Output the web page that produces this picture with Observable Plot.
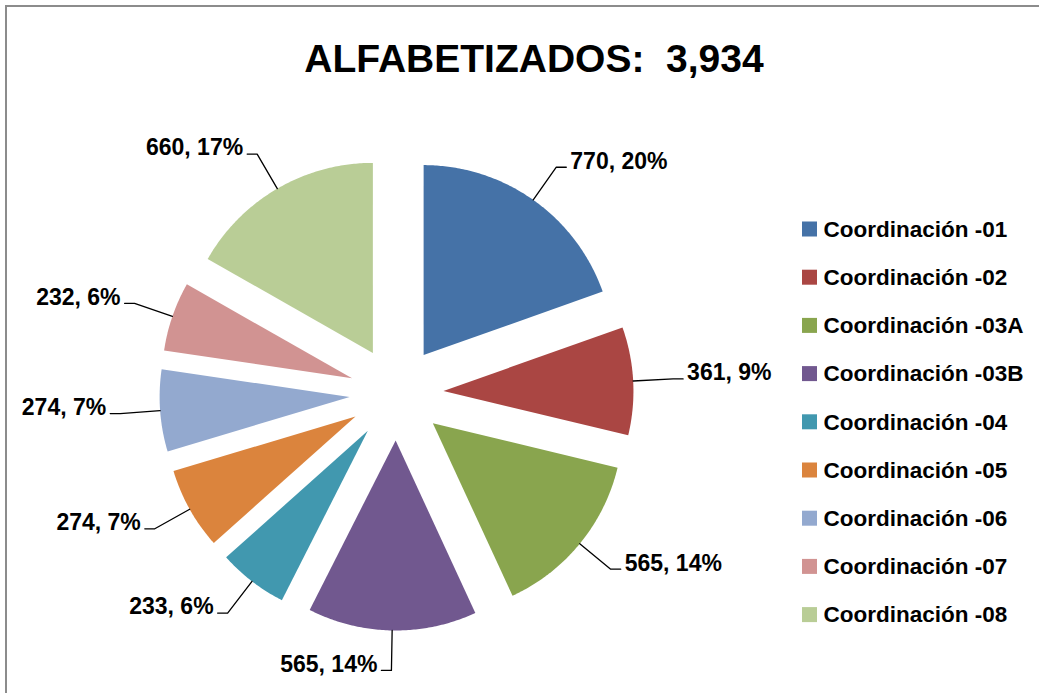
<!DOCTYPE html>
<html>
<head>
<meta charset="utf-8">
<script src="https://cdn.jsdelivr.net/npm/d3@7"></script>
<script src="https://cdn.jsdelivr.net/npm/@observablehq/plot@0.6"></script>
<style>
html, body { margin: 0; padding: 0; background: #fff; overflow: hidden; }
#frame { position: absolute; left: 5px; top: 5px; width: 1034px; height: 688px;
  border-left: 2px solid #8c8c8c; border-top: 2px solid #8c8c8c; box-sizing: border-box; }
#title { font-family: "Liberation Sans", Arial, sans-serif; font-weight: bold; font-size: 39px;
  line-height: 39px; height: 39px; padding: 32px 0 22px 22px; text-align: center;
  white-space: pre; color: #000; }
</style>
</head>
<body>
<div id="frame"><div id="title"></div><div id="chart"></div></div>
<script>
// ---- data ----
const titleText = "ALFABETIZADOS:  3,934";
const categories = [
  "Coordinación -01", "Coordinación -02", "Coordinación -03A", "Coordinación -03B",
  "Coordinación -04", "Coordinación -05", "Coordinación -06", "Coordinación -07",
  "Coordinación -08"
];
const values = [770, 361, 565, 565, 233, 274, 274, 232, 660];
const colors = ["#4572A7", "#AA4643", "#89A54E", "#71588F", "#4198AF", "#DB843D", "#93A9CF", "#D19392", "#B9CD96"];

document.getElementById("title").textContent = titleText;

// ---- layout (page pixel coordinates) ----
const svgLeft = 7, svgTop = 100, svgW = 1032, svgH = 593;
const cx = 396, cy = 393, radius = 190, explode = 47;
const leaderLen = 40, tickLen = 10;
const fontStack = '"Liberation Sans", Arial, sans-serif';

const total = d3.sum(values);
const arcs = d3.pie().sort(null).value(d => d)(values);

// slice polygons
const slicePts = [];
arcs.forEach((a, i) => {
  const m = (a.startAngle + a.endAngle) / 2;
  const ax = cx + explode * Math.sin(m), ay = cy - explode * Math.cos(m);
  slicePts.push({name: categories[i], x: ax, y: ay});
  const n = Math.max(4, Math.ceil((a.endAngle - a.startAngle) / 0.01));
  for (let j = 0; j <= n; j++) {
    const t = a.startAngle + (a.endAngle - a.startAngle) * j / n;
    slicePts.push({name: categories[i], x: ax + radius * Math.sin(t), y: ay - radius * Math.cos(t)});
  }
});

// labels + leaders
const labels = arcs.map((a, i) => {
  const m = (a.startAngle + a.endAngle) / 2;
  const ux = Math.sin(m), uy = -Math.cos(m);
  const px = cx + (explode + radius) * ux, py = cy + (explode + radius) * uy;
  const ex = px + leaderLen * ux, ey = py + leaderLen * uy;
  const s = ux >= 0 ? 1 : -1;
  const pct = Math.round(values[i] / total * 100);
  return {name: categories[i], px, py, ex, ey, tx: ex + s * tickLen, s,
          text: `${values[i]}, ${pct}%`};
});
const leaderPts = labels.flatMap(l => [
  {name: l.name, x: l.px, y: l.py},
  {name: l.name, x: l.ex, y: l.ey},
  {name: l.name, x: l.tx, y: l.ey}
]);

// legend
const legend = categories.map((c, i) => ({name: c, y: 229 + i * 48.2}));

const labelStyle = {fontFamily: fontStack, fontWeight: "bold", fontSize: 23, fill: "#000", dy: -6};

const chart = Plot.plot({
  width: svgW,
  height: svgH,
  margin: 0,
  x: {domain: [svgLeft, svgLeft + svgW], range: [0, svgW], axis: null},
  y: {domain: [svgTop, svgTop + svgH], range: [0, svgH], axis: null},
  color: {domain: categories, range: colors},
  style: {background: "#fff", overflow: "visible"},
  marks: [
    Plot.line(slicePts, {x: "x", y: "y", z: "name", fill: "name", stroke: "none", curve: "linear-closed"}),
    Plot.line(leaderPts, {x: "x", y: "y", z: "name", stroke: "#000", strokeWidth: 1.3}),
    Plot.text(labels.filter(l => l.s > 0), {x: l => l.tx + 4, y: "ey", text: "text", textAnchor: "start", ...labelStyle}),
    Plot.text(labels.filter(l => l.s < 0), {x: l => l.tx - 4, y: "ey", text: "text", textAnchor: "end", ...labelStyle}),
    Plot.rect(legend, {x1: () => 802, x2: () => 817, y1: d => d.y - 7.5, y2: d => d.y + 7.5, fill: "name"}),
    Plot.text(legend, {x: () => 823, y: "y", text: "name", textAnchor: "start",
      fontFamily: fontStack, fontWeight: "bold", fontSize: 22.5, fill: "#000"})
  ]
});
document.getElementById("chart").appendChild(chart);
</script>
</body>
</html>
